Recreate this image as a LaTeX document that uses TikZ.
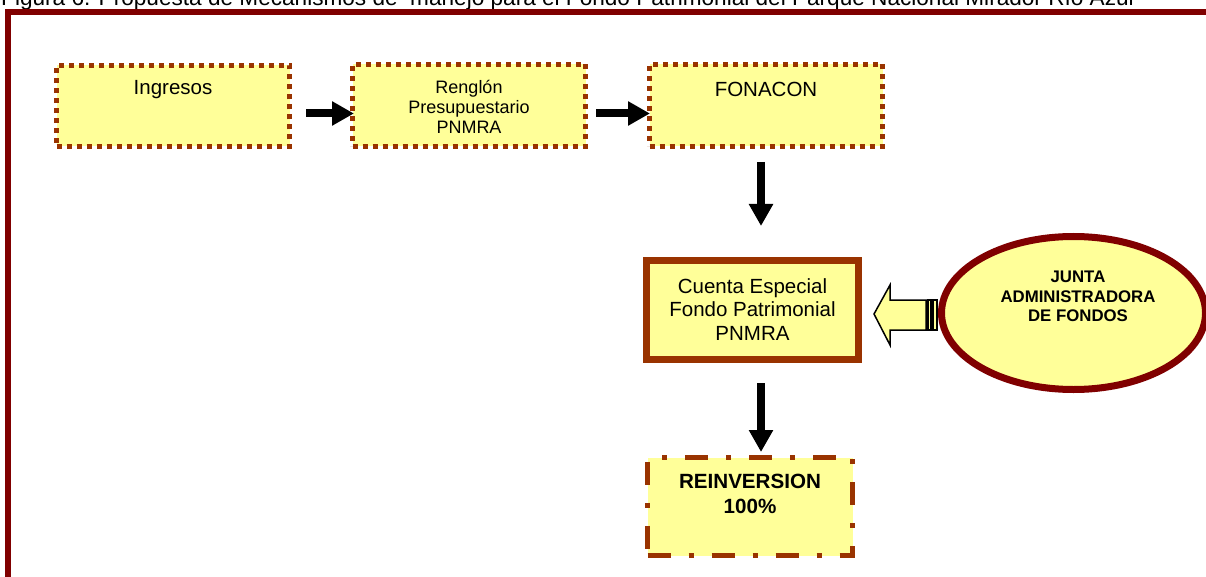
\documentclass[tikz,border=0pt]{standalone}
\usepackage{fontspec}
\setmainfont{Liberation Sans}
\usetikzlibrary{arrows.meta,calc,shapes.geometric}
\definecolor{framered}{HTML}{800000}
\definecolor{brownb}{HTML}{993300}
\definecolor{fillY}{HTML}{FFFF99}
\begin{document}
\begin{tikzpicture}[x=1pt,y=-1pt,
  dotbox/.style={draw=brownb, fill=fillY, line width=5pt, dash pattern=on 5pt off 5pt,
    minimum width=233pt, inner sep=0pt},
  dashdotbox/.style={draw=brownb, fill=fillY, line width=5pt, dash pattern=on 23pt off 18pt on 5pt off 18pt,
    minimum width=205pt, minimum height=98pt, inner sep=0pt},
  thickbox/.style={draw=brownb, fill=fillY, line width=7pt, minimum width=212pt, minimum height=99pt, inner sep=0pt},
  oval/.style={ellipse, draw=framered, fill=fillY, line width=7pt, minimum width=264pt, minimum height=153pt, inner sep=0pt},
  txt/.style={inner sep=0pt, align=center},
  bigarrow/.style={line width=8pt, -{Triangle[width=23pt,length=22pt]}},
  hollow/.style={draw=black, fill=fillY, line width=1.5pt, line join=miter}
]
\useasboundingbox (0,0) rectangle (1206,577);

% title (partly cut off at top, as in the reference)
\node[anchor=base west, inner sep=0pt, font=\fontsize{22.6}{26}\selectfont] (title) at (1,6)
  {Figura 6. Propuesta de Mecanismos de\ \ manejo para el Fondo Patrimonial del Parque Nacional Mirador Río Azul};

% outer frame
\draw[framered, line width=6pt] (8,12) rectangle (1240,610);

% top row boxes
\node[dotbox, minimum height=81pt] (ing) at (173,106) {};
\node[dotbox, minimum height=82pt] (ren) at (469,105.5) {};
\node[dotbox, minimum height=82pt] (fon) at (766,105.5) {};

\node[txt, font=\fontsize{20.5}{23.5}\selectfont] (ingT) at ($(ing.north)+(0,27)$) {Ingresos};
\node[txt, font=\fontsize{18}{20}\selectfont] (renT) at ($(ren.north)+(0,45)$) {Renglón\\Presupuestario\\PNMRA};
\node[txt, font=\fontsize{20.5}{23.5}\selectfont] (fonT) at ($(fon.north)+(0,27)$) {FONACON};

% special account
\node[thickbox] (cue) at (752.5,310) {};
\node[txt, font=\fontsize{20.5}{23.5}\selectfont] (cueT) at (752.5,309.5) {Cuenta Especial\\Fondo Patrimonial\\PNMRA};

% board ellipse
\node[oval] (jun) at (1073.5,313) {};
\node[txt, font=\bfseries\fontsize{16.8}{19.5}\selectfont] (junT) at (1078,296.5) {JUNTA\\ADMINISTRADORA\\DE FONDOS};

% reinversion
\node[dashdotbox] (rei) at (750,506.5) {};
\node[txt, font=\bfseries\fontsize{20.6}{25}\selectfont] (reiT) at (750,493.5) {REINVERSION\\100\%};

% black arrows
\draw[bigarrow] ($(ing.east)+(14,7.5)$) -- ($(ren.west)+(4,8)$);
\draw[bigarrow] ($(ren.east)+(8,8)$) -- ($(fon.west)+(3,8)$);
\draw[bigarrow] ($(fon.south)+(-5,13)$) -- ($(cue.north)+(8.5,-31)$);
\draw[bigarrow] ($(cue.south)+(8.5,20)$) -- ($(rei.north)+(11,-3)$);

% hollow striped block arrow pointing to the account
\coordinate (bt) at ($(cue.east)+(12,4)$);
\draw[hollow] (bt) -- ++(16,-29) -- ++(0,15) -- ++(36,0) -- ++(0,30) -- ++(-36,0) -- ++(0,15) -- cycle;
\draw[hollow] ($(bt)+(54,-14)$) rectangle ++(3,30);
\draw[hollow] ($(bt)+(59,-14)$) rectangle ++(4,30);
\end{tikzpicture}
\end{document}
